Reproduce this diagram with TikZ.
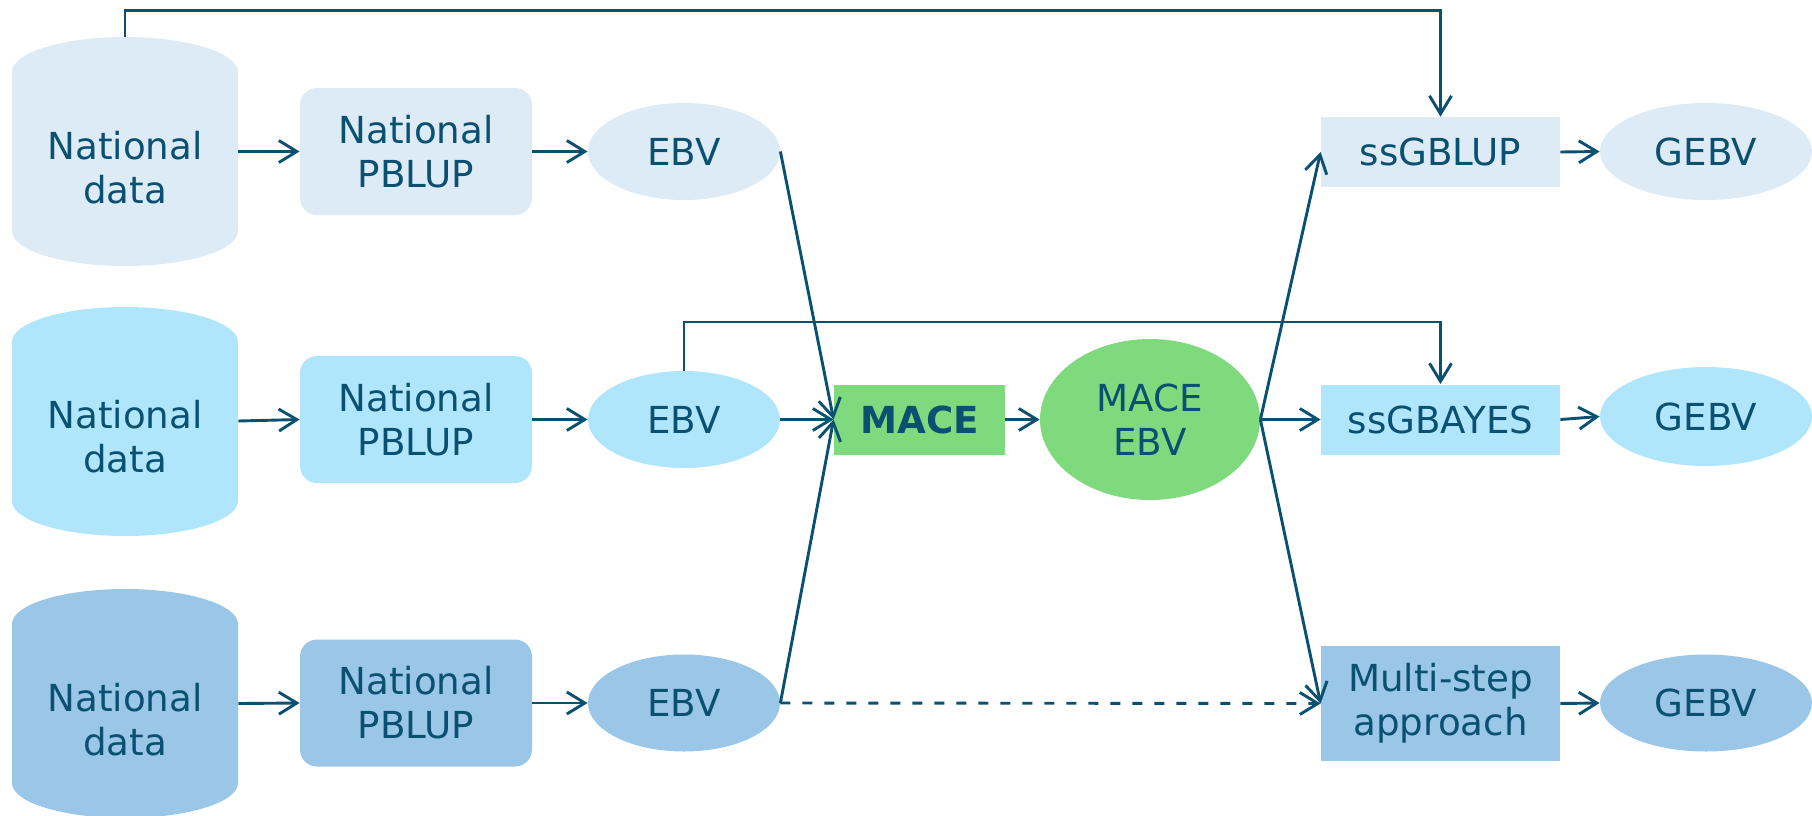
\documentclass[tikz,border=0pt]{standalone}
\usepackage{fontspec}
\setmainfont{DejaVu Sans}
\usetikzlibrary{shapes.geometric,arrows.meta}

\definecolor{ink}{RGB}{10,80,112}
\definecolor{rowA}{RGB}{220,235,246}
\definecolor{rowB}{RGB}{176,230,252}
\definecolor{rowC}{RGB}{154,198,232}
\definecolor{mace}{RGB}{127,217,125}

% filled drum (database) with its centre at x, top edge at y, in pixel units
\newcommand\drum[3]{%
  \fill[#3] (#1-113,#2-35) arc[start angle=180,end angle=0,x radius=56.5pt,y radius=17.5pt]
    -- (#1+113,#2-194) arc[start angle=0,end angle=-180,x radius=56.5pt,y radius=17.5pt] -- cycle;}

\begin{document}
\begin{tikzpicture}[x=0.5pt,y=0.5pt,
  every node/.style={text=ink,align=center,inner sep=0pt,
    font=\fontsize{18.6pt}{22pt}\selectfont},
  store/.style={minimum width=113pt,minimum height=114.5pt,
    label={[shift={(0,-8pt)}]center:#1}},
  rbox/.style={rectangle,rounded corners=8.5pt,minimum width=116pt,minimum height=63.5pt},
  sbox/.style={rectangle,minimum width=119.5pt,minimum height=35pt},
  oval/.style={ellipse,minimum width=96pt,minimum height=48.5pt},
  gebv/.style={ellipse,minimum width=106pt,minimum height=48.5pt},
  arr/.style={draw=ink,line width=1.45pt,-{Straight Barb[length=9pt,width=11pt]}},
  link/.style={draw=ink,line width=1.45pt}]
\useasboundingbox (0,0) rectangle (1812,-815);

% national databases
\drum{125}{-37}{rowA}
\drum{125}{-307}{rowB}
\drum{125}{-589}{rowC}
\node[store={National\\data}] (nd1) at (125,-151.5) {};
\node[store={National\\data}] (nd2) at (125,-421) {};
\node[store={National\\data}] (nd3) at (125,-703.5) {};

% national evaluations
\node[rbox,fill=rowA] (pb1) at (416,-151.5) {National\\PBLUP};
\node[rbox,fill=rowB] (pb2) at (416,-419.5) {National\\PBLUP};
\node[rbox,fill=rowC] (pb3) at (416,-703) {National\\PBLUP};

\node[oval,fill=rowA] (e1) at (684,-151.5) {EBV};
\node[oval,fill=rowB] (e2) at (684,-419.5) {EBV};
\node[oval,fill=rowC] (e3) at (684,-703) {EBV};

% international evaluation
\node[rectangle,fill=mace,minimum width=85.5pt,minimum height=35pt,font=\fontsize{18.6pt}{22pt}\selectfont\bfseries] (mc) at (919.5,-419.5) {MACE};
\node[ellipse,fill=mace,minimum width=110pt,minimum height=80.5pt] (me) at (1150,-419.5) {MACE\\EBV};

% genomic evaluations
\node[sbox,fill=rowA] (sg1) at (1440.5,-152) {ssGBLUP};
\node[sbox,fill=rowB] (sg2) at (1440.5,-419.5) {ssGBAYES};
\node[sbox,fill=rowC,minimum height=57.5pt] (sg3) at (1440.5,-703.5) {Multi-step\\approach};

\node[gebv,fill=rowA] (g1) at (1706,-151.5) {GEBV};
\node[gebv,fill=rowB,minimum height=49.5pt] (g2) at (1706,-416.5) {GEBV};
\node[gebv,fill=rowC] (g3) at (1706,-703) {GEBV};

\coordinate (topy) at (0,-10.5);
\coordinate (midy) at (0,-322);

% row connectors
\foreach \i in {1,2,3}{
  \draw[arr] (nd\i.east) -- (pb\i.west);
  \draw[arr] (pb\i.east) -- (e\i.west);
  \draw[arr] (e\i.east) -- (mc.west);
  \draw[arr] (me.east) -- (sg\i.west);
  \draw[arr] (sg\i.east) -- (g\i.west);
}
\draw[arr] (mc.east) -- (me.west);

% direct feeds into genomic evaluations
\draw[arr] (nd1.north) -- (nd1.north |- topy) -| (sg1.north);
\draw[arr] (e2.north) -- (e2.north |- midy) -| (sg2.north);
\draw[arr,dash pattern=on 5pt off 6pt] (e3.east) -- (sg3.west);
\end{tikzpicture}
\end{document}
